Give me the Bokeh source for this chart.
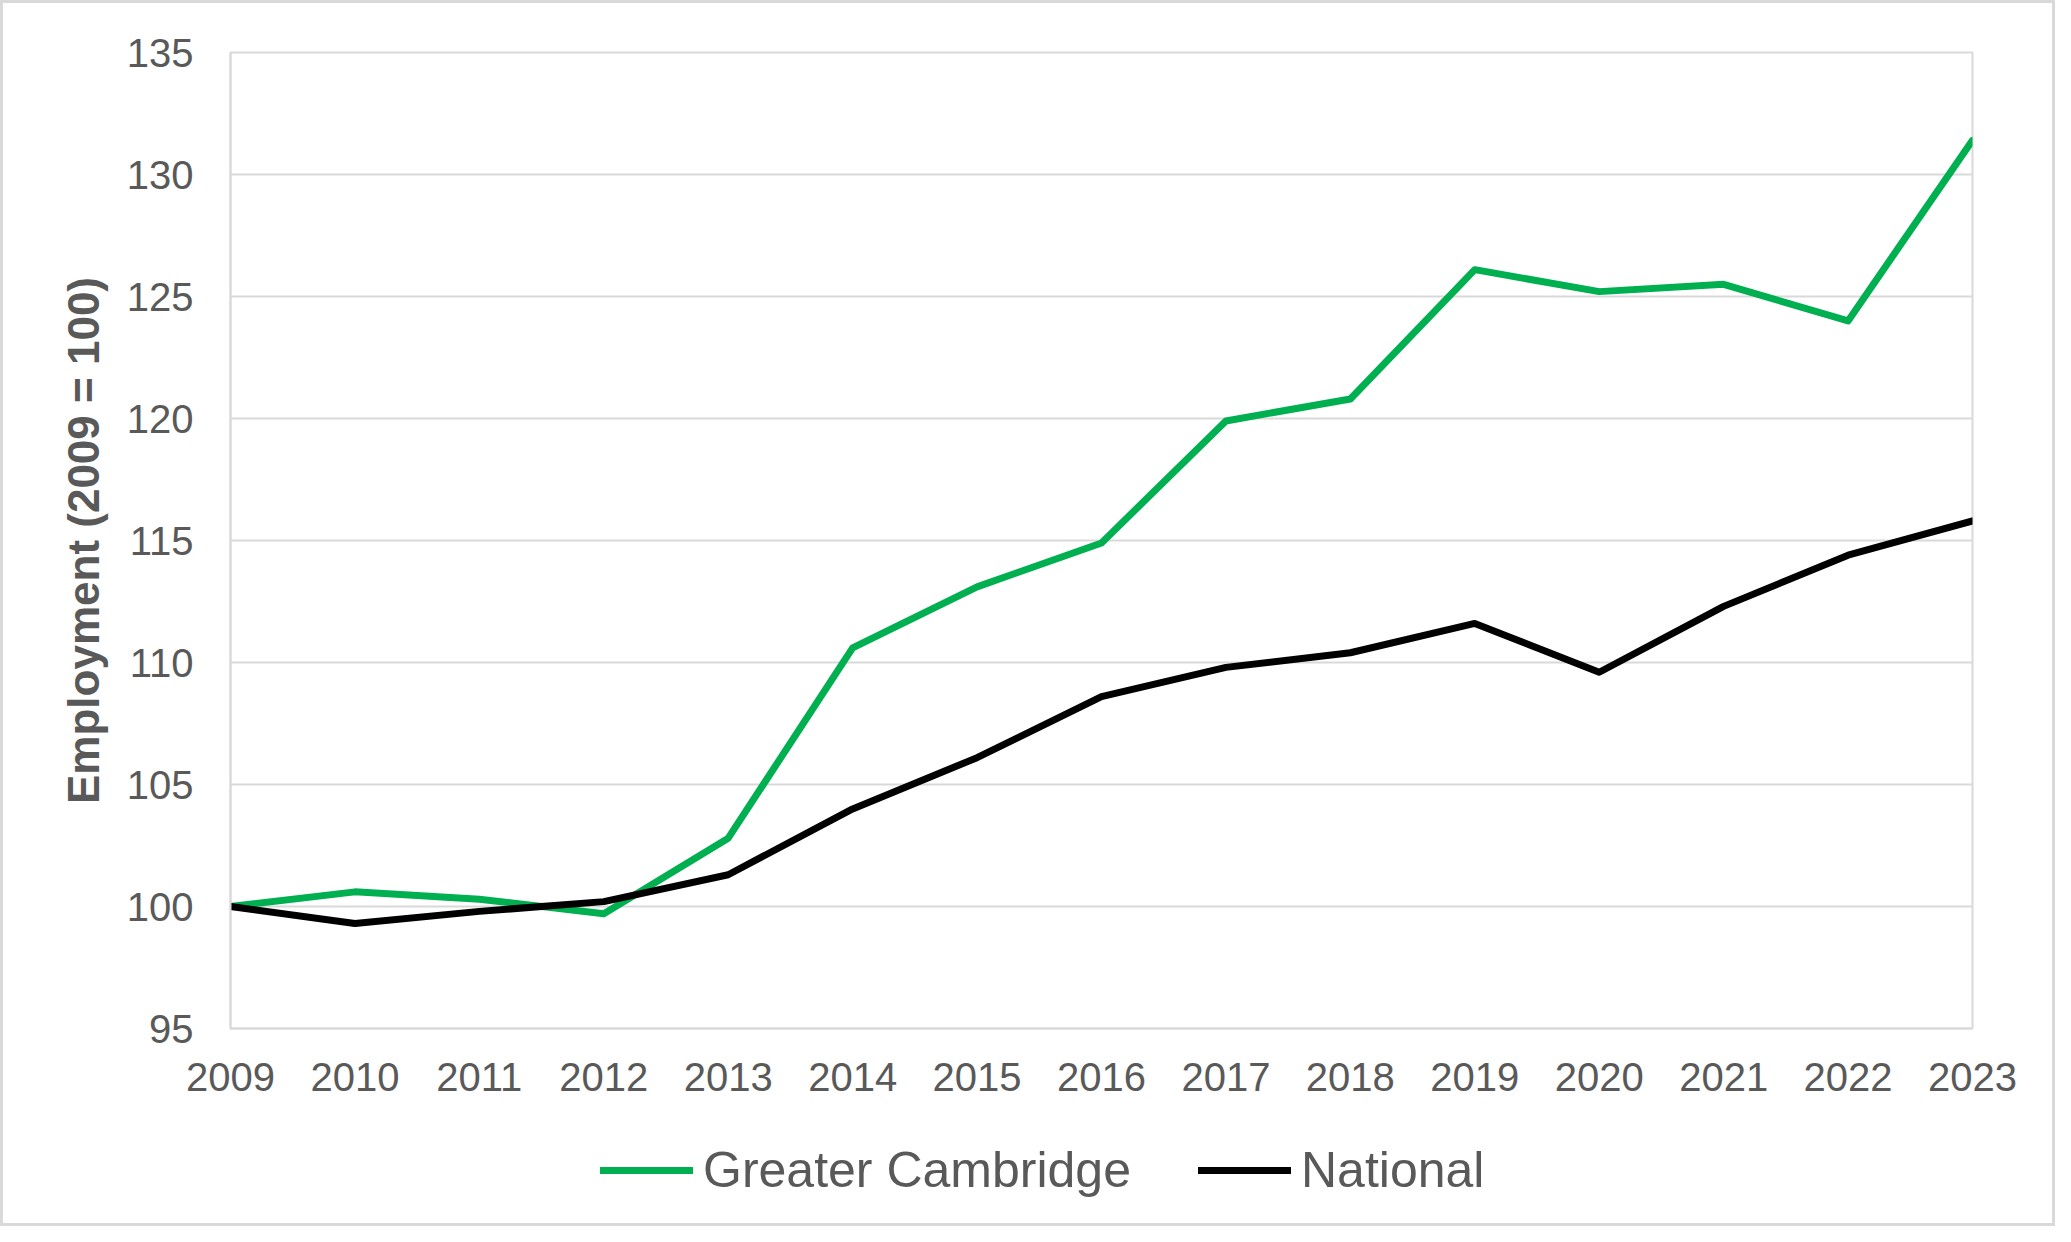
from bokeh.plotting import figure
from bokeh.layouts import column
from bokeh.models import Range1d, FixedTicker, Legend, LegendItem, ColumnDataSource
from bokeh.embed import file_html
from bokeh.resources import INLINE

years = list(range(2009, 2024))
greater_cambridge = [100.0, 100.6, 100.3, 99.7, 102.8, 110.6, 113.1, 114.9, 119.9, 120.8, 126.1, 125.2, 125.5, 124.0, 131.4]
national = [100.0, 99.3, 99.8, 100.2, 101.3, 104.0, 106.1, 108.6, 109.8, 110.4, 111.6, 109.6, 112.3, 114.4, 115.8]
y_ticks = [95, 100, 105, 110, 115, 120, 125, 130, 135]
y_label = "Employment (2009 = 100)"
series_names = ["Greater Cambridge", "National"]
series_colors = ["#00B050", "#000000"]

GRID = "#d9d9d9"
TEXT = "#595959"
FONT = "Liberation Sans"
LW = 7

p = figure(width=2049, height=1120, output_backend="svg", toolbar_location=None,
           x_range=Range1d(2009, 2023), y_range=Range1d(95, 135),
           min_border_left=227, min_border_right=80, min_border_top=49, min_border_bottom=95)
p.background_fill_color = "white"
p.border_fill_color = "white"
p.outline_line_color = GRID
p.outline_line_width = 2

src = ColumnDataSource(dict(x=years, gc=greater_cambridge, nat=national))
p.line("x", "gc", source=src, line_color=series_colors[0], line_width=LW, line_join="round", line_cap="round")
p.line("x", "nat", source=src, line_color=series_colors[1], line_width=LW, line_join="round", line_cap="round")

p.xaxis.ticker = FixedTicker(ticks=years)
p.yaxis.ticker = FixedTicker(ticks=y_ticks)
for ax in (p.xaxis, p.yaxis):
    ax.major_tick_out = 0
    ax.major_tick_in = 0
    ax.minor_tick_out = 0
    ax.minor_tick_in = 0
    ax.axis_line_color = GRID
    ax.axis_line_width = 2
    ax.major_label_text_font = FONT
    ax.major_label_text_font_size = "40px"
    ax.major_label_text_color = TEXT
p.yaxis.major_label_standoff = 37
p.xaxis.major_label_standoff = 34
p.yaxis.axis_label = y_label
p.yaxis.axis_label_text_font = FONT
p.yaxis.axis_label_text_font_size = "44px"
p.yaxis.axis_label_text_font_style = "bold"
p.yaxis.axis_label_text_color = TEXT
p.yaxis.axis_label_standoff = 16

p.xgrid.grid_line_color = None
p.ygrid.grid_line_color = GRID
p.ygrid.grid_line_width = 2

# legend strip below the chart (its frame is aligned with the chart's frame)
L = figure(width=2049, height=100, output_backend="svg", toolbar_location=None,
           x_range=Range1d(0, 1), y_range=Range1d(0, 1), x_axis_type=None, y_axis_type=None,
           min_border_left=0, min_border_right=0, min_border_top=0, min_border_bottom=0)
L.outline_line_color = None
L.background_fill_color = "white"
L.border_fill_color = "white"
L.xgrid.grid_line_color = None
L.ygrid.grid_line_color = None
lr1 = L.line(x=[-5, -4], y=[-5, -4], line_color=series_colors[0], line_width=LW, line_cap="round")
lr2 = L.line(x=[-5, -4], y=[-5, -4], line_color=series_colors[1], line_width=LW, line_cap="round")
legend = Legend(items=[LegendItem(label=series_names[0], renderers=[lr1]),
                       LegendItem(label=series_names[1], renderers=[lr2])],
                location=(370, 24), orientation="horizontal",
                padding=0, margin=0, spacing=67, label_standoff=10,
                glyph_width=93, glyph_height=30,
                label_text_font=FONT, label_text_font_size="50px", label_text_color=TEXT,
                border_line_color=None, background_fill_alpha=0)
L.add_layout(legend, "center")

layout = column(p, L, spacing=0)
layout.styles = {"border": "3px solid #d9d9d9"}

open("out.html", "w").write(file_html(layout, INLINE))
